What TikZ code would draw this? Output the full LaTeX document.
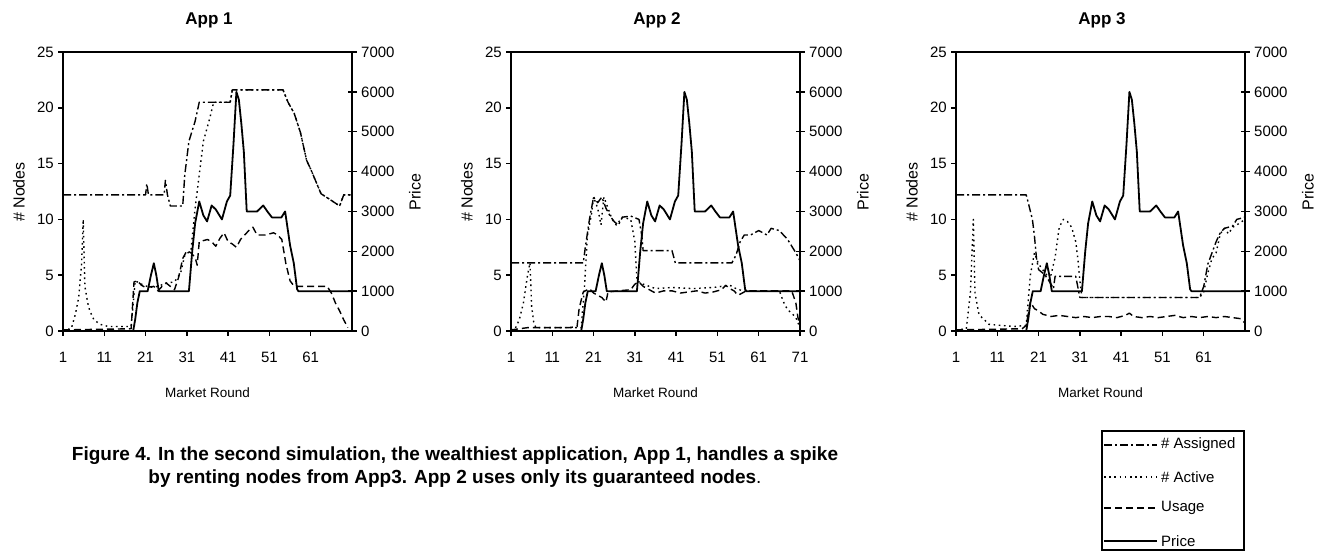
\documentclass[tikz,border=0pt]{standalone}
\usepackage{fontspec}
\setmainfont{Liberation Sans}
\newcommand\pricepath{(1,0) -- (18,0) -- (18.5,300) -- (19,700) -- (19.6,1000) -- (21.5,1000) -- (22.3,1400) -- (23,1700) -- (23.6,1400) -- (24.2,1000) -- (31.5,1000) -- (32.3,2000) -- (33,2700) -- (34,3250) -- (35,2900) -- (35.9,2750) -- (37,3150) -- (38,3050) -- (39.5,2800) -- (40.7,3250) -- (41.5,3400) -- (42.3,4700) -- (43,6000) -- (43.6,5800) -- (44.2,5200) -- (44.8,4500) -- (45.5,3000) -- (48,3000) -- (49.5,3150) -- (50.5,3000) -- (51.6,2850) -- (53.9,2850) -- (54.8,3000) -- (56,2150) -- (56.9,1700) -- (57.7,1050) -- (58,1000) -- (71,1000)}
\newcommand\drawchart[4]{%
  \node[ttl] (title#2) at (#1+146,20) {#3};
  \draw[frame] (#1,52) rectangle (#1+289,331);
  \foreach \v in {0,5,10,15,20,25} {
    \draw[frame] (#1-5,{331-\v*11.16}) -- (#1,{331-\v*11.16});
    \node[tick, anchor=east] (nl#2-\v) at (#1-9,{331-\v*11.16}) {\v};
  }
  \foreach \k in {0,...,7} {
    \pgfmathtruncatemacro\pv{\k*1000}
    \draw[frame] (#1+285,{331-\k*39.857}) -- (#1+294,{331-\k*39.857});
    \node[tick, anchor=west] (pl#2-\k) at (#1+298,{331-\k*39.857}) {\pv};
  }
  \foreach \r in {1,11,...,#4} {
    \draw[frame] ({#1+(\r-1)*4.12857},331) -- ({#1+(\r-1)*4.12857},336);
    \node[tick] (xl#2-\r) at ({#1+(\r-1)*4.12857},357) {\r};
  }
  \node[axt, rotate=90] (yt#2) at (#1-44,192) {\# Nodes};
  \node[axt, rotate=90] (pt#2) at (#1+352,192) {Price};
  \node[mr] (mr#2) at (#1+144.5,393) {Market Round};
}
\begin{document}
\begin{tikzpicture}[x=1pt,y=-1pt,
  frame/.style={line width=1.5pt, line cap=butt},
  assigned/.style={line width=1.4pt, line join=round, dash pattern=on 8pt off 3pt on 2pt off 3pt},
  active/.style={line width=1.4pt, line join=round, dash pattern=on 1.6pt off 3.6pt},
  usage/.style={line width=1.4pt, line join=round, dash pattern=on 7pt off 4pt},
  pricel/.style={line width=1.8pt, line join=round},
  tick/.style={font=\fontsize{15}{15}\selectfont, inner sep=0pt},
  ttl/.style={font=\fontsize{17}{17}\selectfont\bfseries, inner sep=0pt},
  axt/.style={font=\fontsize{16}{16}\selectfont, inner sep=0pt},
  mr/.style={font=\fontsize{13.5}{13.5}\selectfont, inner sep=0pt},
  leg/.style={font=\fontsize{15}{15}\selectfont, inner sep=0pt, anchor=west},
  captext/.style={font=\fontsize{19}{23}\selectfont\bfseries, align=center, inner sep=0pt}]
\useasboundingbox (0,0) rectangle (1319,552);
\fill[white] (0,0) rectangle (1319,552);

% ---------- Chart 1 ----------
\drawchart{63}{a}{App 1}{61}
\begin{scope}[shift={(58.871,331)}, x=4.12857pt, y=11.16pt]
  \draw[assigned] (1,12.2) -- (21,12.2) -- (21.3,13.2) -- (21.7,12.2) -- (25.5,12.2) -- (25.8,13.5) -- (26.3,12.2) -- (27,11.2) -- (30,11.2) -- (30.5,14) -- (31.5,17) -- (33,18.8) -- (34,20.5) -- (41.5,20.5) -- (42,21.6) -- (54.3,21.6) -- (55.5,20.5) -- (57,19.5) -- (58.5,17.8) -- (60,15.3) -- (61,14.5) -- (63.5,12.3) -- (66,11.7) -- (68,11.2) -- (69,12.2) -- (71,12.2);
  \draw[active] (1,0.1) -- (3,0.2) -- (4,1.5) -- (4.8,3) -- (5.5,6) -- (5.9,10) -- (6.3,4) -- (7,2.5) -- (7.5,1.8) -- (8.5,1) -- (10,0.6) -- (12,0.4) -- (17.5,0.4) -- (18.5,4.5) -- (20,4.2) -- (22,3.9) -- (24,4) -- (26,4.3) -- (28,4.4) -- (29.5,5.2) -- (30.5,6.8) -- (32,7.2) -- (33,11) -- (34,14) -- (35,17) -- (36.5,19) -- (37.5,20.5) -- (41.5,20.5) -- (42,21.6) -- (54.3,21.6) -- (55.5,20.5) -- (57,19.5) -- (58.5,17.8) -- (60,15.3) -- (61,14.5) -- (63.5,12.3) -- (66,11.7) -- (68,11.2) -- (69,12.2) -- (71,12.2);
  \draw[usage] (1,0.1) -- (17.5,0.2) -- (18.2,4.4) -- (19,4.5) -- (20,4.1) -- (21,3.9) -- (23,4) -- (24,3.6) -- (25,4) -- (26,4.3) -- (27,4) -- (28,3.7) -- (29,4.8) -- (30,6.5) -- (31,7.2) -- (32,7) -- (33,6.6) -- (33.5,5.9) -- (34,8) -- (36,8.2) -- (37,8) -- (38,7.6) -- (39,8.3) -- (40,8.8) -- (41,8) -- (42,7.8) -- (43,7.5) -- (44,8.2) -- (46,9) -- (47,9.3) -- (48,8.6) -- (50,8.6) -- (52,8.8) -- (53,8.6) -- (54,8.2) -- (55,6) -- (56,4.5) -- (57,4) -- (65,4) -- (66,3.4) -- (67,2.5) -- (68,1.8) -- (69,1) -- (70,0.3);
\end{scope}
\begin{scope}[shift={(58.871,331)}, x=4.12857pt, y=0.039857pt]
  \draw[pricel] \pricepath;
\end{scope}

% ---------- Chart 2 ----------
\drawchart{511}{b}{App 2}{71}
\begin{scope}[shift={(506.871,331)}, x=4.12857pt, y=11.16pt]
  \draw[assigned] (1,6.1) -- (18.5,6.1) -- (19,7.5) -- (20,10) -- (21,12) -- (22,11.5) -- (23,12) -- (24,11) -- (25,10.3) -- (26,9.8) -- (27,9.5) -- (28,10.2) -- (30,10.3) -- (32,10) -- (32.7,8.5) -- (33,7.2) -- (40,7.2) -- (40.8,6.1) -- (54.5,6.1) -- (55.5,6.8) -- (56.5,8) -- (57.5,8.6) -- (59,8.6) -- (61,9) -- (63,8.6) -- (64,9.2) -- (66,9) -- (68,8.2) -- (70,7) -- (71,6.3);
  \draw[active] (1,0.1) -- (2,0.2) -- (3,1) -- (4,2.5) -- (5,5) -- (5.6,6.1) -- (6,2.2) -- (6.5,0.8) -- (7,0.3) -- (18,0.3) -- (18.8,4) -- (19.5,8.5) -- (20.5,10.5) -- (21,12) -- (22,11) -- (22.8,9.5) -- (23.5,12) -- (24.5,11) -- (25.5,10) -- (26.5,9.5) -- (28,10.2) -- (30,10) -- (31,8) -- (31.5,4.5) -- (33,4.2) -- (36,3.8) -- (40,3.9) -- (45,3.8) -- (50,3.9) -- (54,4.1) -- (56,3.7) -- (58,3.6) -- (66,3.6) -- (67,2.6) -- (68,1.9) -- (69,1.6) -- (70,1.2) -- (71,0.3);
  \draw[usage] (1,0.1) -- (5,0.3) -- (15,0.3) -- (17,0.4) -- (17.5,2) -- (18.5,3.5) -- (20,3.8) -- (21,3.4) -- (22,3.2) -- (23,3) -- (24,2.6) -- (24.5,3.5) -- (27,3.6) -- (30,3.7) -- (31,4.2) -- (32,4.4) -- (33,4) -- (35,3.6) -- (36,3.4) -- (38,3.6) -- (40,3.6) -- (42,3.4) -- (44,3.5) -- (46,3.6) -- (48,3.4) -- (50,3.5) -- (52,3.7) -- (53,4.1) -- (54,3.8) -- (55,3.6) -- (56,3.2) -- (57,3.4) -- (58,3.6) -- (69,3.6) -- (70,2.5) -- (70.5,1.2) -- (71,0.5);
\end{scope}
\begin{scope}[shift={(506.871,331)}, x=4.12857pt, y=0.039857pt]
  \draw[pricel] \pricepath;
\end{scope}

% ---------- Chart 3 ----------
\drawchart{956}{c}{App 3}{61}
\begin{scope}[shift={(951.871,331)}, x=4.12857pt, y=11.16pt]
  \draw[assigned] (1,12.2) -- (18,12.2) -- (18.5,11.5) -- (19.5,10) -- (20,8.5) -- (20.5,6.5) -- (21,5.5) -- (22,5.2) -- (23,4.8) -- (24,4.2) -- (24.6,3.8) -- (25,4.9) -- (30,4.9) -- (31,3) -- (60,3) -- (61,4) -- (62,6) -- (63,7) -- (64,8) -- (65,8.8) -- (66,9.2) -- (68,9.4) -- (69,10) -- (71,10.2);
  \draw[active] (1,0.1) -- (3.5,0.2) -- (4.5,3.5) -- (5.2,10) -- (5.6,3.4) -- (6.5,1.6) -- (7,1.3) -- (9,0.6) -- (12,0.5) -- (15,0.4) -- (18,0.5) -- (19,5) -- (20,7) -- (21,6) -- (22,5.5) -- (23,5) -- (24,5) -- (25,6.6) -- (26,9.3) -- (27,10) -- (28,9.8) -- (29,9.3) -- (30,8) -- (30.5,6.5) -- (31,4.5) -- (31.5,3) -- (60,3) -- (61,3.5) -- (62,5.2) -- (63,6.5) -- (64,7) -- (65,8.7) -- (66,9.2) -- (67,8.7) -- (68,9.3) -- (69,9.5) -- (71,10);
  \draw[usage] (1,0.1) -- (17,0.2) -- (18,0.5) -- (19,2.6) -- (20,2) -- (21,1.8) -- (22,1.5) -- (24,1.3) -- (26,1.4) -- (28,1.3) -- (30,1.2) -- (32,1.3) -- (34,1.2) -- (36,1.3) -- (38,1.3) -- (40,1.2) -- (42,1.4) -- (43,1.6) -- (44,1.3) -- (46,1.2) -- (48,1.3) -- (50,1.2) -- (52,1.3) -- (54,1.4) -- (56,1.2) -- (58,1.3) -- (60,1.2) -- (62,1.3) -- (64,1.2) -- (66,1.3) -- (68,1.2) -- (70,1.1) -- (71,0.7);
\end{scope}
\begin{scope}[shift={(951.871,331)}, x=4.12857pt, y=0.039857pt]
  \draw[pricel] \pricepath;
\end{scope}

% ---------- Caption ----------
\node[captext] (caption) at (455,467) {Figure 4. In the second simulation, the wealthiest application, App 1, handles a spike\\by renting nodes from App3. App 2 uses only its guaranteed nodes{\mdseries .}};

% ---------- Legend ----------
\draw[frame, line width=1.3pt] (1102,431) rectangle (1244,550);
\coordinate (la0) at (1104,445); \coordinate (la1) at (1157,445);
\coordinate (lb0) at (1104,477); \coordinate (lb1) at (1157,477);
\coordinate (lc0) at (1104,508); \coordinate (lc1) at (1157,508);
\coordinate (ld0) at (1104,541); \coordinate (ld1) at (1157,541);
\draw[assigned] (la0) -- (la1);
\draw[active] (lb0) -- (lb1);
\draw[usage] (lc0) -- (lc1);
\draw[pricel] (ld0) -- (ld1);
\node[leg] (lta) at (1161,445) {\# Assigned};
\node[leg] (ltb) at (1161,477) {\# Active};
\node[leg] (ltc) at (1161,508) {Usage};
\node[leg] (ltd) at (1161,541) {Price};
\end{tikzpicture}
\end{document}
